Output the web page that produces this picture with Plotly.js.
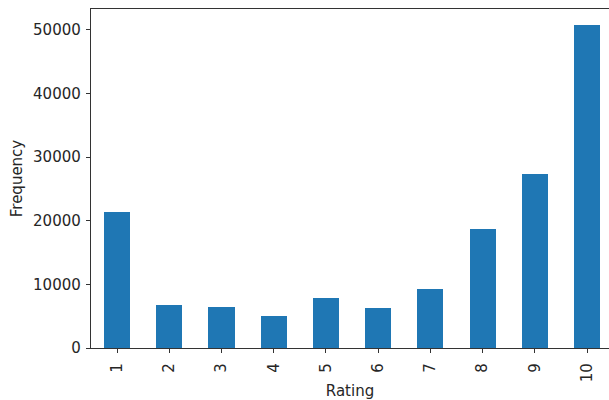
<!DOCTYPE html>
<html>
<head>
<meta charset="utf-8">
<script src="https://cdn.plot.ly/plotly-3.0.1.min.js"></script>
<style>
  html, body { margin: 0; padding: 0; background: #fff; }
  #chart { width: 609px; height: 400px; }
</style>
</head>
<body>
<div id="chart"></div>
<script>
// Rating distribution: count of each rating value 1-10
const ratings = ["1", "2", "3", "4", "5", "6", "7", "8", "9", "10"];
const frequency = [21400, 6800, 6400, 5000, 7900, 6250, 9350, 18700, 27300, 50750];
const yTicks = [0, 10000, 20000, 30000, 40000, 50000];

const positions = ratings.map((_, i) => i);
const FONT = "DejaVu Sans, sans-serif";
const TEXT = { family: FONT, size: 15, color: "#262626" };

const trace = {
  type: "bar",
  x: positions,
  y: frequency,
  width: 0.5,
  marker: { color: "#1f77b4", line: { width: 0 } },
  hoverinfo: "x+y"
};

const layout = {
  width: 609,
  height: 400,
  margin: { l: 91, r: 0, t: 9, b: 52 },
  paper_bgcolor: "#ffffff",
  plot_bgcolor: "#ffffff",
  showlegend: false,
  bargap: 0,
  font: TEXT,
  xaxis: {
    range: [-0.5, 9.42],
    tickmode: "array",
    tickvals: positions,
    ticktext: ratings,
    tickangle: -90,
    ticks: "outside",
    ticklen: 4,
    tickwidth: 1,
    tickcolor: "#333",
    ticklabelstandoff: 4,
    showgrid: false,
    zeroline: false,
    showline: true,
    linecolor: "#333",
    linewidth: 1.2,
    mirror: true,
    tickfont: TEXT,
    title: { text: "Rating", font: TEXT, standoff: 6 }
  },
  yaxis: {
    range: [0, 53300],
    tickmode: "array",
    tickvals: yTicks,
    ticktext: yTicks.map(String),
    ticks: "outside",
    ticklen: 4,
    tickwidth: 1,
    tickcolor: "#333",
    ticklabelstandoff: 2,
    showgrid: false,
    zeroline: false,
    showline: true,
    linecolor: "#333",
    linewidth: 1.2,
    tickfont: TEXT,
    title: { text: "Frequency", font: TEXT, standoff: 6 }
  }
};

Plotly.newPlot("chart", [trace], layout, { displayModeBar: false, staticPlot: true });
</script>
</body>
</html>
